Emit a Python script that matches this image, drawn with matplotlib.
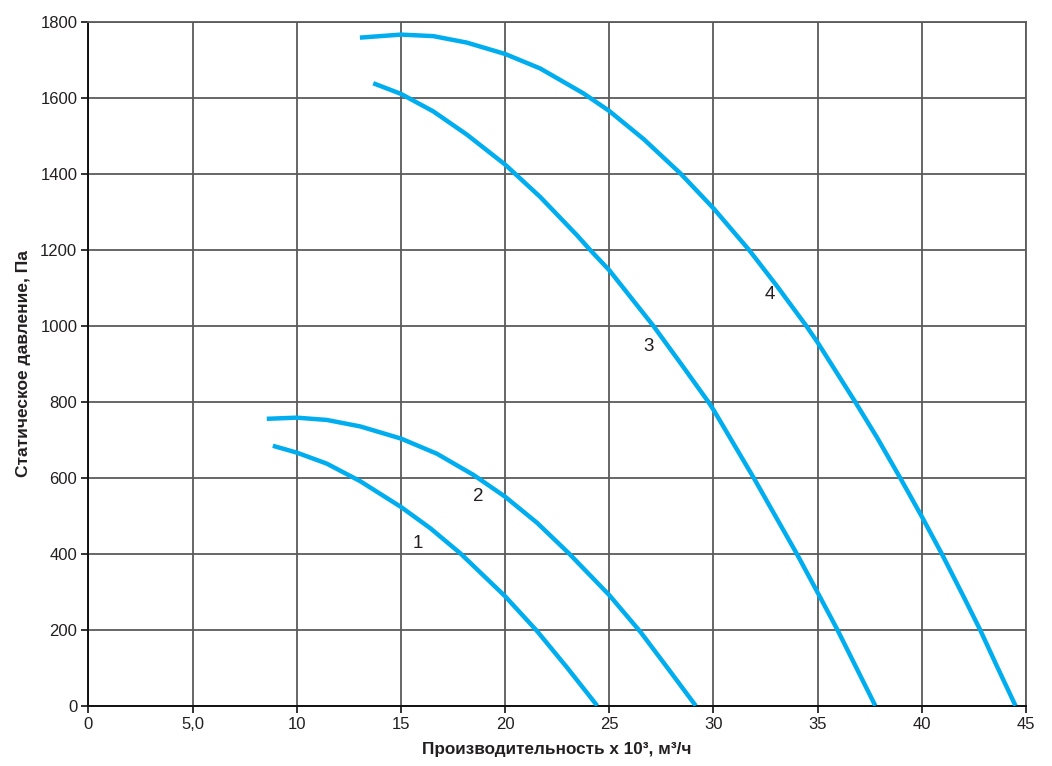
import matplotlib
matplotlib.use("Agg")
import matplotlib.pyplot as plt

plt.rcParams['font.family'] = ['Liberation Sans', 'DejaVu Sans']

# Curve data (flow x10^3 m3/h, static pressure Pa)
x1 = [8.85, 10, 11.44, 13.04, 15, 16.41, 17.85, 20, 21.54, 22.98, 24.42]
y1 = [684, 666, 637, 591, 523, 467, 401, 288, 196, 100, 0]

x2 = [8.56, 10, 11.44, 13.04, 15, 16.73, 18.49, 20, 21.54, 23.06, 25, 26.5, 27.79, 29.15]
y2 = [755, 758, 752, 735, 703, 663, 607, 550, 481, 401, 291, 194, 100, 0]

x3 = [13.67, 15, 16.55, 18.16, 20, 21.68, 23.45, 24.07, 25, 27.11, 28.4, 29.75, 30, 31.93, 34.0, 35, 35.95, 37.77]
y3 = [1638, 1610, 1564, 1503, 1424, 1339, 1238, 1200, 1146, 1000, 903, 800, 779, 600, 400, 298, 200, 0]

x4 = [13.03, 15, 16.55, 18.16, 20, 21.68, 23.77, 25, 26.65, 28.41, 30, 31.7, 33.04, 34.45, 35, 36.8, 37.84, 38.96, 40, 40.96, 42, 42.8, 43.6, 44.5]
y4 = [1758, 1766, 1762, 1745, 1715, 1677, 1611, 1565, 1491, 1401, 1309, 1200, 1105, 1000, 956, 800, 707, 600, 498, 400, 288, 200, 105, 0]

curve_labels = ['1', '2', '3', '4']
label_x = [15.8, 18.7, 26.9, 32.7]
label_y = [428, 550, 945, 1083]

xticks = [0, 5, 10, 15, 20, 25, 30, 35, 40, 45]
xtick_labels = ['0', '5,0', '10', '15', '20', '25', '30', '35', '40', '45']
yticks = list(range(0, 1801, 200))

fig = plt.figure(figsize=(10.52, 7.66), dpi=100)
ax = fig.add_axes([0.0841, 0.0787, 0.8911, 0.893])

color = '#00AEEF'
for xs, ys in [(x1, y1), (x2, y2), (x3, y3), (x4, y4)]:
    ax.plot(xs, ys, color=color, lw=3.2, solid_capstyle='butt',
            solid_joinstyle='round', zorder=3)

txt_color = '#231F20'
for t, lx, ly in zip(curve_labels, label_x, label_y):
    ax.text(lx, ly, t, fontsize=13.5, color=txt_color, ha='center', va='center', zorder=4)

ax.set_xlim(0, 45)
ax.set_ylim(0, 1800)
ax.set_xticks(xticks)
ax.set_xticklabels(xtick_labels)
ax.set_yticks(yticks)
ax.grid(True, color='#5a5a5a', lw=1.3, zorder=1)
ax.set_axisbelow(True)
for s in ['left', 'bottom']:
    ax.spines[s].set_color('#111111')
    ax.spines[s].set_linewidth(1.4)
for s in ['top', 'right']:
    ax.spines[s].set_color('#5a5a5a')
    ax.spines[s].set_linewidth(1.3)
ax.tick_params(direction='out', length=5, width=1.2, colors='#111111',
               labelsize=12, labelcolor=txt_color, pad=3)

ax.set_xlabel('Производительность х 10³, м³/ч', fontsize=12.3, fontweight='bold',
              color=txt_color, labelpad=7)
ax.set_ylabel('Статическое давление, Па', fontsize=12.5, fontweight='bold',
              color=txt_color, labelpad=7)

fig.savefig('out.png', dpi=100)
